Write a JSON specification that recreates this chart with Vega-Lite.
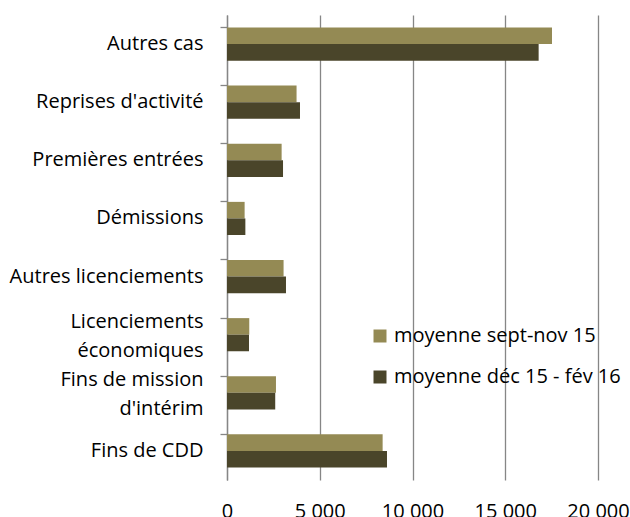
{
  "$schema": "https://vega.github.io/schema/vega-lite/v6.json",
  "width": 371,
  "height": 465,
  "autosize": {"type": "none"},
  "padding": {"left": 227, "top": 15, "right": 32, "bottom": 37},
  "background": "white",
  "config": {"view": {"stroke": null}, "font": "Open Sans"},
  "data": {
    "values": [
      {"cat": "Autres cas", "series": "moyenne sept-nov 15", "value": 17520},
      {"cat": "Autres cas", "series": "moyenne déc 15 - fév 16", "value": 16800},
      {"cat": "Reprises d'activité", "series": "moyenne sept-nov 15", "value": 3750},
      {"cat": "Reprises d'activité", "series": "moyenne déc 15 - fév 16", "value": 3935},
      {"cat": "Premières entrées", "series": "moyenne sept-nov 15", "value": 2945},
      {"cat": "Premières entrées", "series": "moyenne déc 15 - fév 16", "value": 3020},
      {"cat": "Démissions", "series": "moyenne sept-nov 15", "value": 950},
      {"cat": "Démissions", "series": "moyenne déc 15 - fév 16", "value": 990},
      {"cat": "Autres licenciements", "series": "moyenne sept-nov 15", "value": 3050},
      {"cat": "Autres licenciements", "series": "moyenne déc 15 - fév 16", "value": 3180},
      {"cat": "Licenciements économiques", "series": "moyenne sept-nov 15", "value": 1200},
      {"cat": "Licenciements économiques", "series": "moyenne déc 15 - fév 16", "value": 1185},
      {"cat": "Fins de mission d'intérim", "series": "moyenne sept-nov 15", "value": 2640},
      {"cat": "Fins de mission d'intérim", "series": "moyenne déc 15 - fév 16", "value": 2600},
      {"cat": "Fins de CDD", "series": "moyenne sept-nov 15", "value": 8390},
      {"cat": "Fins de CDD", "series": "moyenne déc 15 - fév 16", "value": 8625}
    ]
  },
  "layer": [
    {
      "mark": {"type": "bar"},
      "encoding": {
        "y": {
          "field": "cat",
          "type": "nominal",
          "sort": ["Autres cas", "Reprises d'activité", "Premières entrées", "Démissions", "Autres licenciements", "Licenciements économiques", "Fins de mission d'intérim", "Fins de CDD"],
          "scale": {"paddingInner": 0.43, "paddingOuter": 0.215},
          "axis": {
            "orient": "left",
            "title": null,
            "domain": false,
            "ticks": false,
            "tickSize": 0,
            "grid": false,
            "labelPadding": 24,
            "labelFontSize": 20,
            "labelColor": "#000000",
            "labelLineHeight": 29,
            "labelLimit": 300,
            "labelOffset": {"expr": "indexof(['Licenciements économiques', \"Fins de mission d'intérim\"], datum.value) >= 0 ? -13 : 0"},
            "labelExpr": "datum.value == 'Licenciements économiques' ? ['Licenciements', 'économiques\u00a0'] : datum.value == \"Fins de mission d'intérim\" ? ['Fins de mission', \"d'intérim\u00a0\u00a0\u00a0\u00a0\u00a0\u00a0\"] : datum.value"
          }
        },
        "yOffset": {
          "field": "series",
          "sort": ["moyenne sept-nov 15", "moyenne déc 15 - fév 16"],
          "scale": {"paddingInner": 0, "paddingOuter": 0}
        },
        "x": {
          "field": "value",
          "type": "quantitative",
          "scale": {"domain": [0, 20000], "nice": false},
          "axis": {
            "title": null,
            "values": [0, 5000, 10000, 15000, 20000],
            "domain": false,
            "ticks": false,
            "tickSize": 0,
            "grid": true,
            "gridColor": "#868686",
            "gridWidth": 1.3,
            "labelPadding": 21,
            "labelFontSize": 20,
            "labelColor": "#000000",
            "labelFlush": false,
            "labelOverlap": false,
            "labelExpr": "replace(format(datum.value, ','), ',', ' ')"
          }
        },
        "color": {
          "field": "series",
          "type": "nominal",
          "sort": ["moyenne sept-nov 15", "moyenne déc 15 - fév 16"],
          "scale": {"range": ["#948A54", "#4A452A"]},
          "legend": {
            "title": null,
            "orient": "none",
            "legendX": 143,
            "legendY": 311,
            "symbolType": "square",
            "symbolSize": 169,
            "symbolStrokeWidth": 0,
            "labelFontSize": 20,
            "labelColor": "#000000",
            "labelLimit": 300,
            "labelOffset": 4,
            "rowPadding": 21
          }
        }
      }
    },
    {
      "mark": {"type": "bar", "opacity": 0},
      "encoding": {
        "y": {
          "field": "cat",
          "type": "nominal",
          "sort": ["Autres cas", "Reprises d'activité", "Premières entrées", "Démissions", "Autres licenciements", "Licenciements économiques", "Fins de mission d'intérim", "Fins de CDD"],
          "axis": {
            "orient": "left",
            "title": null,
            "bandPosition": 0,
            "labels": false,
            "ticks": true,
            "tickSize": 7,
            "tickColor": "#868686",
            "tickWidth": 1.3,
            "domain": true,
            "domainColor": "#868686",
            "domainWidth": 1.3,
            "grid": false
          }
        },
        "x": {
          "field": "value",
          "type": "quantitative",
          "axis": {
            "title": null,
            "values": [0, 5000, 10000, 15000, 20000],
            "domain": false,
            "ticks": false,
            "tickSize": 0,
            "grid": true,
            "gridColor": "#868686",
            "gridWidth": 1.3,
            "labelPadding": 21,
            "labelFontSize": 20,
            "labelColor": "#000000",
            "labelFlush": false,
            "labelOverlap": false,
            "labelExpr": "replace(format(datum.value, ','), ',', ' ')"
          }
        }
      }
    }
  ],
  "resolve": {"axis": {"y": "independent"}}
}
